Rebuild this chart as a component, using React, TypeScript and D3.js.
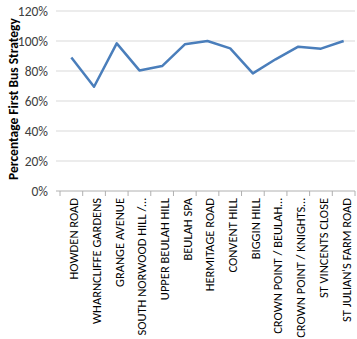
import React from "react";
import * as d3 from "d3";

const categories = [
  "HOWDEN ROAD",
  "WHARNCLIFFE GARDENS",
  "GRANGE AVENUE",
  "SOUTH NORWOOD HILL /…",
  "UPPER BEULAH HILL",
  "BEULAH SPA",
  "HERMITAGE ROAD",
  "CONVENT HILL",
  "BIGGIN HILL",
  "CROWN POINT / BEULAH…",
  "CROWN POINT / KNIGHTS…",
  "ST VINCENTS CLOSE",
  "ST JULIAN'S FARM ROAD",
];
const values = [0.89, 0.695, 0.984, 0.804, 0.833, 0.978, 1.0, 0.951, 0.784, 0.878, 0.962, 0.949, 1.0];
const yTicks = [0, 0.2, 0.4, 0.6, 0.8, 1.0, 1.2];
const yTitle = "Percentage First Bus Strategy";

export default function App() {
  const W = 357, H = 339;
  const left = 60, right = 355, top = 11, bottom = 191;
  const x = d3.scaleBand<string>().domain(categories).range([left, right]);
  const y = d3.scaleLinear().domain([0, 1.2]).range([bottom, top]);
  const line = d3
    .line<number>()
    .x((_, i) => x(categories[i])! + x.bandwidth() / 2)
    .y((d) => y(d));
  const font = "Calibri, Carlito, 'Liberation Sans', Arial, sans-serif";
  const boundaries = d3.range(categories.length + 1).map((i) => left + i * x.bandwidth());
  return (
    <svg width={W} height={H} style={{ position: "absolute", left: 0, top: 0, background: "#fff" }}>
      {yTicks.map((t) => (
        <g key={t}>
          <line x1={left - 4} x2={right} y1={y(t)} y2={y(t)} stroke={t === 0 ? "#b0b0b0" : "#d9d9d9"} strokeWidth={1} />
          <text x={left - 12} y={y(t)} dy="0.35em" textAnchor="end" fontSize={13.5} fill="#404040" fontFamily={font}>
            {Math.round(t * 100) + "%"}
          </text>
        </g>
      ))}
      {boundaries.map((b, i) => (
        <line key={i} x1={b} x2={b} y1={bottom} y2={bottom + 5} stroke="#b0b0b0" strokeWidth={1} />
      ))}
      <path d={line(values) || ""} fill="none" stroke="#4a7ebb" strokeWidth={2.5} strokeLinejoin="round" />
      {categories.map((c) => {
        const cx = x(c)! + x.bandwidth() / 2;
        return (
          <text
            key={c}
            transform={`translate(${cx},${bottom + 7}) rotate(-90)`}
            dy="0.55em"
            textAnchor="end"
            fontSize={12.5}
            fill="#000"
            fontFamily={font}
          >
            {c}
          </text>
        );
      })}
      <text
        transform={`translate(13,99) rotate(-90)`}
        dy="0.35em"
        textAnchor="middle"
        fontSize={13.5}
        fontWeight="bold"
        fill="#000"
        fontFamily={font}
      >
        {yTitle}
      </text>
    </svg>
  );
}
